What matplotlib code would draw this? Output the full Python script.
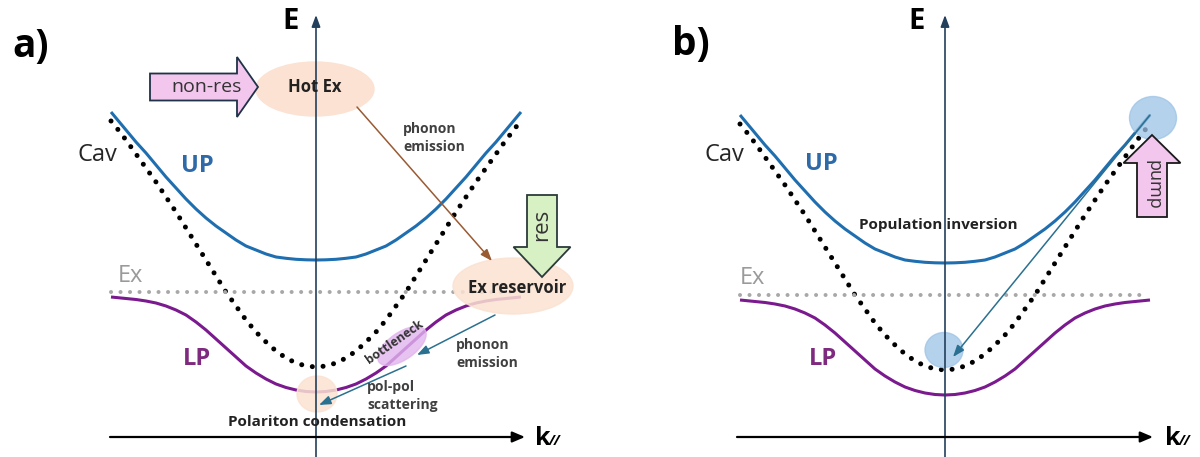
import matplotlib
matplotlib.use("Agg")
import matplotlib.pyplot as plt
from matplotlib.patches import Ellipse, FancyArrow, FancyArrowPatch

plt.rcParams['font.family'] = ['Open Sans', 'DejaVu Sans']

# ---- dispersion data (in-plane wavevector k, energy E; arbitrary units) ----
# branches are symmetric in k, sampled on the k >= 0 side
k_half = [0.0, 0.1, 0.2, 0.3, 0.4, 0.5, 0.6, 0.7, 0.8, 0.9, 1.0,
          1.1, 1.2, 1.3, 1.4, 1.5, 1.6, 1.7, 1.8, 1.9, 2.0, 2.05]
E_cav_half = [0.70, 0.71, 0.74, 0.79, 0.86, 0.95, 1.05, 1.17, 1.31, 1.45, 1.61,
              1.77, 1.93, 2.09, 2.25, 2.40, 2.55, 2.69, 2.83, 2.97, 3.10, 3.16]
E_up_half = [1.77, 1.772, 1.777, 1.787, 1.80, 1.83, 1.87, 1.91, 1.97, 2.04, 2.11,
             2.19, 2.28, 2.38, 2.49, 2.60, 2.72, 2.84, 2.95, 3.07, 3.19, 3.25]
E_lp_half = [0.45, 0.455, 0.47, 0.495, 0.53, 0.58, 0.64, 0.71, 0.80, 0.89, 0.98,
             1.07, 1.15, 1.22, 1.27, 1.31, 1.34, 1.36, 1.375, 1.385, 1.395, 1.40]
E_ex = 1.45
E_shift = {"a": 0.0, "b": -0.03}


def full(vals, sign=1.0):
    """Mirror a k>=0 sample list onto the full k range."""
    return [sign * v for v in vals[::-1]] + list(vals[1:])


k_full = full(k_half, -1.0)

C_UP = '#1f6fb0'
C_LP = '#7a1a8e'
C_AX = '#22405c'
C_TEAL = '#2a7090'
PEACH = '#fbe2d2'
PINK = '#f3c6ee'
GREEN = '#d7f0c4'
LIGHTBLUE = '#9dc3e6'

fig = plt.figure(figsize=(12, 4.57), dpi=100)
ax_a = fig.add_axes([0.0, 0.0, 0.5, 1.0])
ax_b = fig.add_axes([0.5, 0.0, 0.5, 1.0])
ax_a.set_xlim(-3.16, 2.84)
ax_b.set_xlim(-3.45, 2.55)
for ax in (ax_a, ax_b):
    ax.set_ylim(-0.20, 4.37)
    ax.axis('off')


def draw_branches(ax, shift):
    ax.plot(k_full, [e + shift for e in full(E_up_half)], color=C_UP, lw=2.2,
            solid_capstyle='butt', zorder=2)
    ax.plot(k_full, [e + shift for e in full(E_lp_half)], color=C_LP, lw=2.2,
            solid_capstyle='butt', zorder=2)
    ax.plot(k_full, [e + shift for e in full(E_cav_half)], color='black', lw=3.6,
            linestyle=(0, (0.01, 2.15)), dash_capstyle='round', zorder=2)
    ax.plot([-2.05, 2.0], [E_ex + shift] * 2, color='#a8a8a8', lw=2.9,
            linestyle=(0, (0.01, 2.35)), dash_capstyle='round', zorder=2)


def draw_axes(ax, k_left, k_right):
    ax.add_patch(FancyArrowPatch((0, -0.22), (0, 4.22),
                                 arrowstyle='-|>,head_length=7,head_width=2.6',
                                 mutation_scale=1, color=C_AX, lw=1.2,
                                 shrinkA=0, shrinkB=0, zorder=6))
    ax.add_patch(FancyArrowPatch((k_left, 0.0), (k_right, 0.0),
                                 arrowstyle='-|>,head_length=7.5,head_width=3.2',
                                 mutation_scale=1, color='black', lw=1.6,
                                 shrinkA=0, shrinkB=0, zorder=6))


def thin_arrow(ax, start, end, color):
    ax.add_patch(FancyArrowPatch(start, end,
                                 arrowstyle='-|>,head_length=7,head_width=2.6',
                                 mutation_scale=1, color=color, lw=1.1,
                                 shrinkA=0, shrinkB=0, zorder=7))


def common_labels(ax, pos):
    ax.text(*pos['Cav'], 'Cav', fontsize=17, color='#262626', ha='center', va='center')
    ax.text(*pos['UP'], 'UP', fontsize=17, fontweight='bold', color='#2f6aa8',
            ha='center', va='center')
    ax.text(*pos['Ex'], 'Ex', fontsize=17, color='#9a9a9a', ha='center', va='center')
    ax.text(*pos['LP'], 'LP', fontsize=17, fontweight='bold', color='#7e2a7e',
            ha='center', va='center')
    ax.text(*pos['E'], 'E', fontsize=21, fontweight='bold', color='black',
            ha='center', va='center')
    ax.text(pos['k'][0], pos['k'][1], 'k', fontsize=18, fontweight='bold',
            ha='left', va='baseline')
    ax.text(pos['k'][0] + 0.135, pos['k'][1], '//', fontsize=10, fontweight='bold',
            ha='left', va='baseline', style='italic')
    ax.text(*pos['panel'][0], pos['panel'][1], fontsize=28, fontweight='bold',
            ha='center', va='center')


# ======================= panel a =======================
draw_branches(ax_a, E_shift['a'])

# hot excitons + non-resonant pump
ax_a.add_patch(Ellipse((-0.01, 3.48), 1.18, 0.54, color=PEACH, zorder=3))
ax_a.add_patch(FancyArrow(-1.66, 3.50, 1.08, 0.0, width=0.27, head_width=0.60,
                          head_length=0.21, length_includes_head=True,
                          fc=PINK, ec='#1f3247', lw=1.3, zorder=4))
ax_a.text(-1.09, 3.50, 'non-res', fontsize=14, color='#333333', ha='center',
          va='center', zorder=5)
ax_a.text(-0.01, 3.50, 'Hot Ex', fontsize=12, fontweight='bold', color='#222222',
          ha='center', va='center', zorder=7)

# exciton reservoir + resonant pump
ax_a.add_patch(Ellipse((1.97, 1.51), 1.20, 0.56, color=PEACH, alpha=0.85, zorder=3))
ax_a.add_patch(FancyArrow(2.26, 2.42, 0.0, -0.82, width=0.30, head_width=0.57,
                          head_length=0.30, length_includes_head=True,
                          fc=GREEN, ec='#2b3a3a', lw=1.3, zorder=4))
ax_a.text(2.26, 2.12, 'res', fontsize=16, color='#333333', rotation=90,
          ha='center', va='center', zorder=5)
ax_a.text(2.01, 1.49, 'Ex reservoir', fontsize=12, fontweight='bold',
          color='#222222', ha='center', va='center', zorder=7)

# bottleneck and condensate
ax_a.add_patch(Ellipse((0.86, 0.91), 0.56, 0.27, angle=35, color='#e2b4ee',
                       alpha=0.8, zorder=3))
ax_a.text(0.79, 0.95, 'bottleneck', fontsize=9, fontweight='bold', color='#333333',
          rotation=35, ha='center', va='center', rotation_mode='anchor', zorder=7)
ax_a.add_patch(Ellipse((0.01, 0.43), 0.40, 0.36, color=PEACH, alpha=0.85, zorder=3))

# relaxation arrows
thin_arrow(ax_a, (0.41, 3.30), (1.76, 1.76), '#9a5a32')
thin_arrow(ax_a, (1.79, 1.22), (1.01, 0.82), C_TEAL)
thin_arrow(ax_a, (0.90, 0.71), (0.03, 0.32), C_TEAL)

ax_a.text(0.87, 2.99, 'phonon\nemission', fontsize=10, fontweight='bold',
          color='#404040', ha='left', va='center', linespacing=1.35, zorder=7)
ax_a.text(1.40, 0.83, 'phonon\nemission', fontsize=10, fontweight='bold',
          color='#404040', ha='left', va='center', linespacing=1.35, zorder=7)
ax_a.text(0.51, 0.41, 'pol-pol\nscattering', fontsize=10, fontweight='bold',
          color='#404040', ha='left', va='center', linespacing=1.35, zorder=7)
ax_a.text(0.01, 0.15, 'Polariton condensation', fontsize=11, fontweight='bold',
          color='#222222', ha='center', va='center', zorder=7)

draw_axes(ax_a, -2.06, 2.09)
common_labels(ax_a, {
    'Cav': (-2.19, 2.82), 'UP': (-1.19, 2.71), 'Ex': (-1.86, 1.61),
    'LP': (-1.19, 0.78), 'E': (-0.25, 4.15), 'k': (2.19, -0.08),
    'panel': ((-2.85, 3.90), 'a)')})

# ======================= panel b =======================
draw_branches(ax_b, E_shift['b'])

ax_b.add_patch(Ellipse((2.08, 3.19), 0.47, 0.43, color=LIGHTBLUE, alpha=0.75, zorder=3))
ax_b.add_patch(Ellipse((-0.01, 0.87), 0.38, 0.35, color=LIGHTBLUE, alpha=0.75, zorder=3))
ax_b.add_patch(FancyArrow(2.07, 2.20, 0.0, 0.82, width=0.30, head_width=0.57,
                          head_length=0.28, length_includes_head=True,
                          fc=PINK, ec='#1a1a1a', lw=1.3, zorder=4))
ax_b.text(2.08, 2.52, 'pump', fontsize=13, color='#333333', rotation=-90,
          ha='center', va='center', zorder=5)
thin_arrow(ax_b, (2.05, 3.22), (0.08, 0.80), C_TEAL)
ax_b.text(-0.07, 2.12, 'Population inversion', fontsize=11, fontweight='bold',
          color='#222222', ha='center', va='center', zorder=7)

draw_axes(ax_b, -2.08, 2.08)
common_labels(ax_b, {
    'Cav': (-2.21, 2.82), 'UP': (-1.24, 2.73), 'Ex': (-1.93, 1.59),
    'LP': (-1.22, 0.78), 'E': (-0.28, 4.15), 'k': (2.20, -0.08),
    'panel': ((-2.54, 3.93), 'b)')})

fig.savefig('out.png', dpi=100)
